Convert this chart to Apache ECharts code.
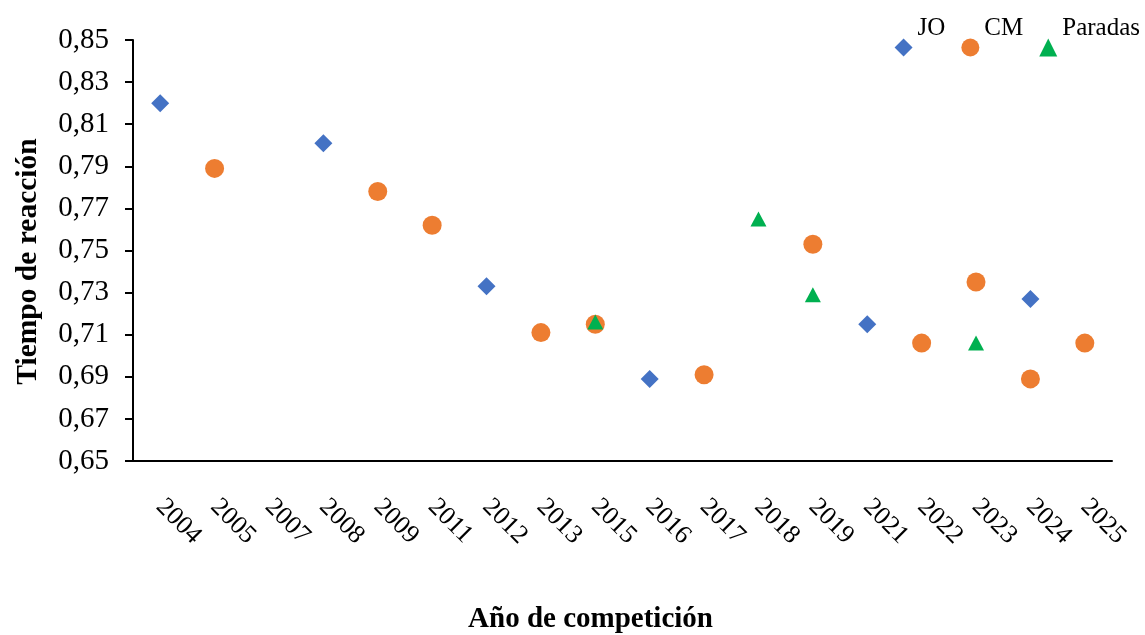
<!DOCTYPE html>
<html>
<head>
<meta charset="utf-8">
<script src="https://cdn.jsdelivr.net/npm/echarts@6/dist/echarts.min.js"></script>
<style>
  html, body { margin: 0; padding: 0; background: #fff; }
  #chart { width: 1145px; height: 635px; }
</style>
</head>
<body>
<div id="chart"></div>
<script>
// Competition years (category axis)
const years = ['2004', '2005', '2007', '2008', '2009', '2011', '2012', '2013', '2015',
               '2016', '2017', '2018', '2019', '2021', '2022', '2023', '2024', '2025'];

// Reaction times per event type, one entry per year (null = no data)
const jo = [0.820, null, null, 0.801, null, null, 0.733, null, null,
            0.689, null, null, null, 0.715, null, null, 0.727, null];
const cm = [null, 0.789, null, null, 0.778, 0.762, null, 0.711, 0.715,
            null, 0.691, null, 0.753, null, 0.706, 0.735, 0.689, 0.706];
const paradas = [null, null, null, null, null, null, null, null, 0.716,
                 null, null, 0.765, 0.729, null, null, 0.706, null, null];

// Y axis range and step
const yMin = 0.65, yMax = 0.85, yStep = 0.02;

const FONT = '"Liberation Serif", "Times New Roman", serif';

const chart = echarts.init(document.getElementById('chart'), null, { renderer: 'canvas' });

chart.setOption({
  animation: false,
  backgroundColor: '#ffffff',
  grid: { left: 133, right: 33, top: 40, bottom: 174, containLabel: false, outerBoundsMode: 'none' },
  legend: {
    right: 0,
    top: 11,
    itemWidth: 18,
    itemHeight: 18,
    itemGap: 16,
    formatter: '{t|{name}}',
    textStyle: {
      fontFamily: FONT, fontSize: 25, color: '#000',
      rich: { t: { fontFamily: FONT, fontSize: 25, color: '#000', padding: [0, 0, 38, 0] } }
    },
    data: ['JO', 'CM', 'Paradas']
  },
  xAxis: {
    type: 'category',
    data: years,
    boundaryGap: true,
    name: 'Año de competición',
    nameLocation: 'middle',
    nameGap: 144,
    nameTextStyle: { fontFamily: FONT, fontSize: 29, fontWeight: 'bold', color: '#000', padding: [0, 64, 0, 0] },
    axisLine: { lineStyle: { color: '#000', width: 2 } },
    axisTick: { show: false },
    axisLabel: {
      rotate: -45,
      interval: 0,
      margin: 42,
      padding: [40, 0, 0, 0],
      fontFamily: FONT,
      fontSize: 26,
      color: '#000'
    },
    splitLine: { show: false }
  },
  yAxis: {
    type: 'value',
    min: yMin,
    max: yMax,
    interval: yStep,
    name: 'Tiempo de reacción',
    nameLocation: 'middle',
    nameGap: 90,
    nameRotate: 90,
    nameTextStyle: { fontFamily: FONT, fontSize: 29.5, fontWeight: 'bold', color: '#000', padding: [0, 22, 0, 0] },
    axisLine: { show: true, lineStyle: { color: '#000', width: 2 } },
    axisTick: { show: true, inside: false, length: 8, lineStyle: { color: '#000', width: 2 } },
    axisLabel: {
      margin: 24,
      fontFamily: FONT,
      fontSize: 29,
      color: '#000',
      formatter: v => v.toFixed(2).replace('.', ',')
    },
    splitLine: { show: false }
  },
  series: [
    {
      name: 'JO',
      type: 'scatter',
      data: jo,
      symbol: 'diamond',
      symbolSize: [18, 18],
      itemStyle: { color: '#4472C4', opacity: 1 }
    },
    {
      name: 'CM',
      type: 'scatter',
      data: cm,
      symbol: 'circle',
      symbolSize: 19,
      itemStyle: { color: '#ED7D31', opacity: 1 }
    },
    {
      name: 'Paradas',
      type: 'scatter',
      data: paradas,
      symbol: 'triangle',
      symbolSize: [16, 15],
      itemStyle: { color: '#00B050', opacity: 1 }
    }
  ]
});
</script>
</body>
</html>
